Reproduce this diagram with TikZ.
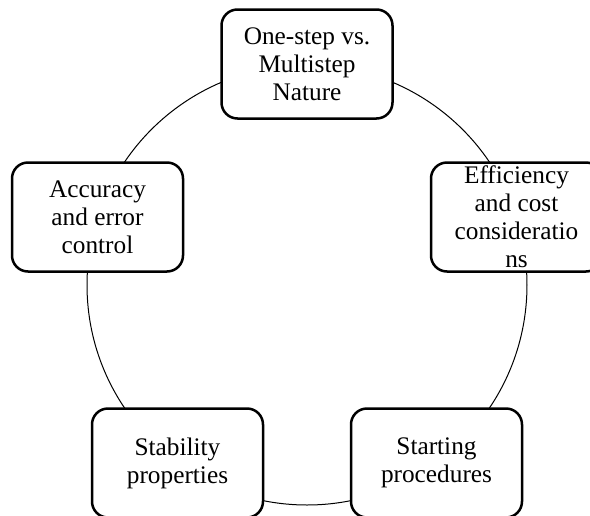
\documentclass[tikz,border=0pt]{standalone}
\usepackage{fontspec}
\setmainfont{Liberation Serif}
\begin{document}
\begin{tikzpicture}[x=1pt,y=-1pt,
  box/.style={draw, line width=2.5pt, rounded corners=16pt, fill=white,
    minimum width=171pt, minimum height=109pt, align=center, inner sep=0pt,
    font=\fontsize{25.3}{28}\selectfont},
  ring/.style={line width=1pt}]
\useasboundingbox (0,0) rectangle (590,515);
\clip (0,0) rectangle (590,515);
\coordinate (c) at (307,285);
\draw[ring] (c) circle[radius=220pt];
\node[box] (top) at (307,64) {One-step vs.\\Multistep\\Nature};
\node[box] (right) at (516.5,217) {Efficiency\\and cost\\consideratio\\ns};
\node[box] (left) at (97.5,217) {Accuracy\\and error\\control};
\node[box] (bl) at (177.5,463) {Stability\\properties};
\node[box] (br) at (436.5,463) {Starting\\procedures};
\end{tikzpicture}
\end{document}
